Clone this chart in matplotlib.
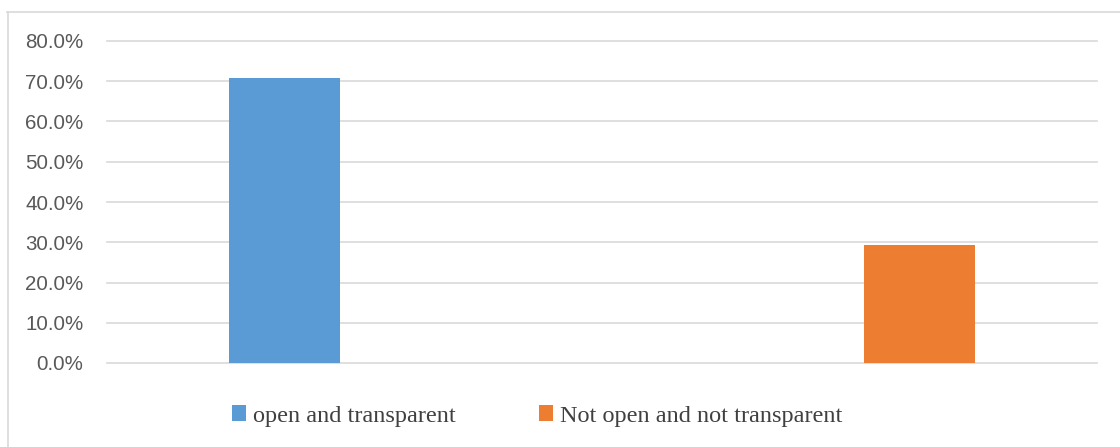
import matplotlib
matplotlib.use("Agg")
import matplotlib.pyplot as plt
from matplotlib.patches import Patch
from matplotlib.lines import Line2D
from matplotlib.ticker import PercentFormatter, MultipleLocator

categories = ["open and transparent", "Not open and not transparent"]
values = [0.707, 0.293]
colors = ["#5B9BD5", "#ED7D31"]

W, H = 1120, 447
fig = plt.figure(figsize=(W / 100, H / 100), dpi=100)
fig.patch.set_facecolor("white")

ax = fig.add_axes([107 / W, 1 - 363 / H, (1097 - 107) / W, (363 - 41) / H])
x = [0, 1]
ax.bar(x, values, width=0.175, color=colors, zorder=3)
ax.set_xlim(-0.2795, 1.279)
ax.set_ylim(0, 0.8)
ax.yaxis.set_major_locator(MultipleLocator(0.1))
ax.yaxis.set_major_formatter(PercentFormatter(1.0, decimals=1))
ax.grid(axis="y", color="#d9d9d9", linewidth=1.2, zorder=0)
ax.set_axisbelow(True)
for s in ax.spines.values():
    s.set_visible(False)
ax.set_xticks([])
ax.tick_params(axis="y", length=0, pad=17, labelsize=14.8, labelcolor="#595959")
for lab in ax.get_yticklabels():
    lab.set_fontfamily("Liberation Sans")
for gl in ax.get_ygridlines():
    gl.set_clip_on(False)

# Outer chart border (top and left visible)
fig.add_artist(Line2D([7 / W, 1.0], [1 - 11.5 / H] * 2, color="#d9d9d9", linewidth=1.2))
fig.add_artist(Line2D([7.5 / W] * 2, [1 - 11.5 / H, 0.0], color="#d9d9d9", linewidth=1.2))

fs = 17.5
em = fs * 100 / 72.0
starts = [232, 539]
for cat, col, xs in zip(categories, colors, starts):
    leg = fig.legend([Patch(facecolor=col, edgecolor="none")], [cat],
                     loc="center left", bbox_to_anchor=(xs / W, 1 - 416 / H),
                     frameon=False, prop={"family": "Liberation Serif", "size": fs},
                     handlelength=14 / em, handleheight=14 / em,
                     handletextpad=7 / em, borderaxespad=0, borderpad=0)
    for t in leg.get_texts():
        t.set_color("#404040")

fig.savefig("out.png", dpi=100, facecolor="white")
